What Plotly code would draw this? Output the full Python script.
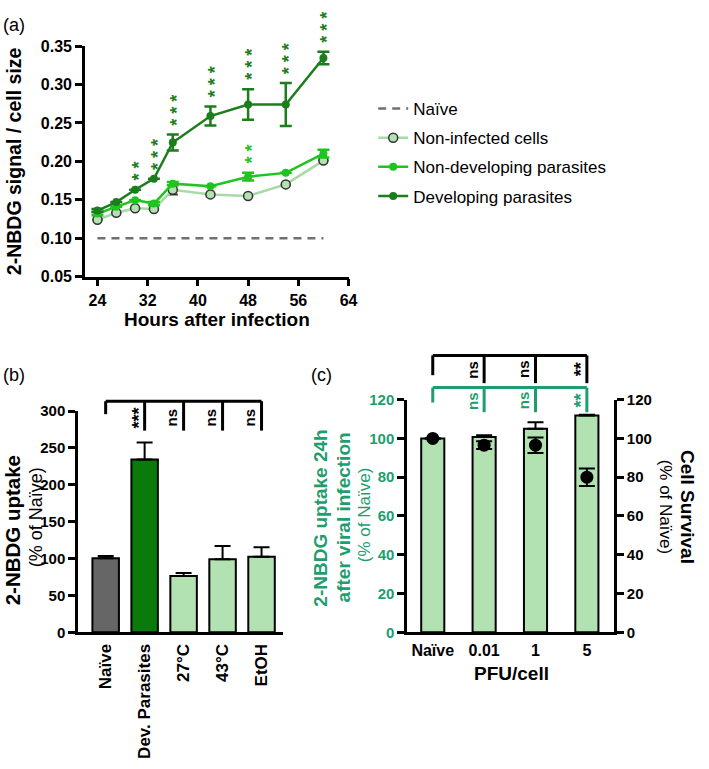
import plotly.graph_objects as go

W, H = 709, 769

# ---------------- data ----------------
hours = [24, 27, 30, 33, 36, 42, 48, 54, 60]
naive_a = [0.10, 0.10, 0.10, 0.10, 0.10, 0.10, 0.10, 0.10, 0.10]
noninf = [0.124, 0.133, 0.139, 0.138, 0.163, 0.157, 0.155, 0.170, 0.201]
noninf_err = [0, 0, 0, 0, 0.006, 0, 0, 0, 0]
nondev = [0.132, 0.141, 0.1495, 0.145, 0.171, 0.1675, 0.180, 0.185, 0.210]
nondev_err = [0.002, 0, 0, 0.002, 0.002, 0, 0.005, 0, 0.005]
dev = [0.136, 0.147, 0.163, 0.1775, 0.2245, 0.259, 0.274, 0.274, 0.3345]
dev_err = [0.002, 0, 0, 0, 0.0105, 0.0125, 0.02, 0.028, 0.008]
dev_stars = [0, 0, 2, 3, 3, 3, 3, 3, 3]
nondev_stars = [0, 0, 0, 0, 0, 0, 2, 0, 0]
a_yticks = [0.05, 0.10, 0.15, 0.20, 0.25, 0.30, 0.35]
a_xticks = [24, 32, 40, 48, 56, 64]

b_cats = ["Naïve", "Dev. Parasites", "27°C", "43°C", "EtOH"]
b_vals = [100.5, 234.5, 76.5, 99, 102.5]
b_err = [3, 23, 4, 18, 13]
b_sig = ["", "***", "ns", "ns", "ns"]
b_yticks = [0, 50, 100, 150, 200, 250, 300]

c_cats = ["Naïve", "0.01", "1", "5"]
c_uptake = [100, 100.7, 105, 111.8]
c_uptake_err = [0, 1, 3.4, 0.4]
c_surv = [100, 96.5, 96.5, 80]
c_surv_err = [0, 2, 4, 4.5]
c_sig_uptake = ["", "ns", "ns", "**"]
c_sig_surv = ["", "ns", "ns", "**"]
c_yticks = [0, 20, 40, 60, 80, 100, 120]

# ---------------- styles ----------------
FONT = "Liberation Sans, Arial, sans-serif"
DARK = "#1b7d1b"
BRIGHT = "#1fc41f"
LIGHTLINE = "#a6daa6"
LIGHTFILL = "#b2e1b2"
TEAL = "#1e9e6e"
GREY = "#666666"


def px(xp):
    return xp / W


def py(yp):
    return 1 - yp / H


A_X = [px(86), px(353)]
A_Y = [py(274), py(38)]
A_XR = [22, 64]
A_YR = [0.05, 0.35]
B_X = [px(79), px(287)]
B_Y = [py(638.3), py(411.7)]
B_XR = [-0.71, 4.56]
B_YR = [0, 300]
C_X = [px(412.3), px(622)]
C_Y = [py(638.3), py(400)]
C_XR = [-0.5, 3.53]
C_YR = [0, 120]


def dpx(v, dom, rng):
    return dom[0] + (v - rng[0]) / (rng[1] - rng[0]) * (dom[1] - dom[0])


fig = go.Figure()

# ---------------- panel (a) ----------------
fig.add_trace(go.Scatter(
    x=[hours[0], hours[-1]], y=[naive_a[0], naive_a[-1]], name="Naïve", mode="lines",
    line=dict(color="#707070", width=2.5, dash="8px,6px"), legendgroup="g1",
    xaxis="x", yaxis="y"))
fig.add_trace(go.Scatter(
    x=hours, y=noninf, name="Non-infected cells", mode="lines+markers", legendgroup="g2",
    line=dict(color=LIGHTLINE, width=2.5),
    marker=dict(size=9, color=LIGHTFILL, line=dict(color="#333333", width=1.5)),
    error_y=dict(type="data", array=noninf_err, color="#333333", thickness=2, width=5),
    xaxis="x", yaxis="y"))
fig.add_trace(go.Scatter(
    x=hours, y=nondev, name="Non-developing parasites", mode="lines+markers", legendgroup="g3",
    line=dict(color=BRIGHT, width=2.5), marker=dict(size=8, color=BRIGHT),
    error_y=dict(type="data", array=nondev_err, color=BRIGHT, thickness=2.5, width=6),
    xaxis="x", yaxis="y"))
fig.add_trace(go.Scatter(
    x=hours, y=dev, name="Developing parasites", mode="lines+markers", legendgroup="g4",
    line=dict(color=DARK, width=2.5), marker=dict(size=8, color=DARK),
    error_y=dict(type="data", array=dev_err, color=DARK, thickness=2.5, width=6),
    xaxis="x", yaxis="y"))

annotations = []
shapes = []


def stars_a(xs, ys, errs, counts, color):
    for x, y, e, n in zip(xs, ys, errs, counts):
        if n == 0:
            continue
        annotations.append(dict(
            x=x, y=y + e, xref="x", yref="y", text="<b>%s</b>" % " ".join(["*"] * n),
            showarrow=False, textangle=-90, xanchor="center", yanchor="bottom",
            yshift=7, xshift=4, font=dict(family=FONT, size=18, color=color)))


stars_a(hours, dev, dev_err, dev_stars, DARK)
stars_a(hours, nondev, nondev_err, nondev_stars, BRIGHT)

# ---------------- panel (b) ----------------
b_colors = [GREY, "#0a7a0a", LIGHTFILL, LIGHTFILL, LIGHTFILL]
b_x = list(range(len(b_cats)))
fig.add_trace(go.Bar(
    x=b_x, y=b_vals, width=0.68, marker=dict(color=b_colors, line=dict(color="black", width=2)),
    error_y=dict(type="data", symmetric=False, array=b_err, arrayminus=[0] * len(b_err),
                 color="black", thickness=2, width=8),
    showlegend=False, xaxis="x2", yaxis="y2"))

# ---------------- panel (c) ----------------
c_x = list(range(len(c_cats)))
fig.add_trace(go.Bar(
    x=c_x, y=c_uptake, width=0.45, marker=dict(color=LIGHTFILL, line=dict(color="black", width=2)),
    error_y=dict(type="data", symmetric=False, array=c_uptake_err, arrayminus=[0] * len(c_x),
                 color="black", thickness=2, width=8),
    showlegend=False, xaxis="x3", yaxis="y3"))
fig.add_trace(go.Scatter(
    x=c_x, y=c_surv, mode="markers", marker=dict(size=13, color="black"),
    error_y=dict(type="data", array=c_surv_err, color="black", thickness=2, width=8),
    showlegend=False, xaxis="x3", yaxis="y4"))


def bracket(xs, dom_x, rng_x, dom_y, rng_y, level, drop0, drop, labels, color, lab_y):
    yl = dpx(level, dom_y, rng_y)
    x0 = dpx(xs[0], dom_x, rng_x)
    x1 = dpx(xs[-1], dom_x, rng_x)
    shapes.append(dict(type="line", xref="paper", yref="paper", x0=x0, x1=x1, y0=yl, y1=yl,
                       line=dict(color=color, width=3)))
    for i, x in enumerate(xs):
        xp = dpx(x, dom_x, rng_x)
        yd = dpx(drop0 if i == 0 else drop, dom_y, rng_y)
        shapes.append(dict(type="line", xref="paper", yref="paper", x0=xp, x1=xp, y0=yl, y1=yd,
                           line=dict(color=color, width=3)))
        lab = labels[i]
        if lab:
            if "*" in lab:
                sz, off, t = 18, 6, "<b>%s</b>" % lab
            else:
                sz, off, t = 15, 12, "<b>%s</b>" % lab
            annotations.append(dict(
                x=xp - off / W, y=dpx(lab_y, dom_y, rng_y), xref="paper", yref="paper",
                text=t, textangle=-90, showarrow=False, xanchor="center", yanchor="middle",
                font=dict(family=FONT, size=sz, color=color)))


bracket(b_x, B_X, B_XR, B_Y, B_YR, 313.3, 295.8, 273.5, b_sig, "black", 291)
bracket(c_x, C_X, C_XR, C_Y, C_YR, 142.8, 132.6, 128.5, c_sig_surv, "black", 135.6)
bracket(c_x, C_X, C_XR, C_Y, C_YR, 126.2, 118.5, 113.5, c_sig_uptake, TEAL, 119.5)

# ---------------- text labels ----------------


def txt(x, y, text, size, color="black", bold=False, angle=0, xanchor="center"):
    annotations.append(dict(
        x=px(x), y=py(y), xref="paper", yref="paper", text=("<b>%s</b>" % text) if bold else text,
        showarrow=False, textangle=angle, xanchor=xanchor, yanchor="middle",
        font=dict(family=FONT, size=size, color=color)))


txt(1, 16, "(a)", 18, xanchor="left")
txt(1, 375, "(b)", 18, xanchor="left")
txt(313, 375, "(c)", 18, xanchor="left")
txt(15, 156, "2-NBDG signal / cell size", 19.5, bold=True, angle=-90)
txt(220, 318, "Hours after infection", 19, bold=True)
txt(13, 534, "2-NBDG uptake", 20.5, bold=True, angle=-90)
txt(36, 521, "(% of Naïve)", 18, angle=-90)
txt(325, 521, "2-NBDG uptake 24h", 19, TEAL, bold=True, angle=-90)
txt(348, 521, "after viral infection", 19, TEAL, bold=True, angle=-90)
txt(370, 518, "(% of Naïve)", 17, TEAL, angle=-90)
txt(675, 510, "(% of Naïve)", 17, angle=90)
txt(697, 510, "Cell Survival", 19, bold=True, angle=90)
txt(518, 680, "PFU/cell", 19, bold=True)

axis_common = dict(showline=True, linewidth=2.5, linecolor="black", showgrid=False, zeroline=False,
                   ticks="outside", ticklen=7, tickwidth=2.5, tickcolor="black")
tf = dict(family=FONT, size=16, color="black", weight="bold")
tf15 = dict(family=FONT, size=15, color="black", weight="bold")

fig.update_layout(
    width=W, height=H, margin=dict(l=0, r=0, t=0, b=0),
    paper_bgcolor="white", plot_bgcolor="white",
    font=dict(family=FONT, color="black"),
    showlegend=True,
    legend=dict(x=px(378), y=py(84), xanchor="left", yanchor="top",
                font=dict(family=FONT, size=17, color="black"), bgcolor="rgba(0,0,0,0)",
                itemwidth=30, tracegroupgap=4),
    xaxis=dict(domain=A_X, range=A_XR, tickvals=a_xticks, tickfont=tf, anchor="y", **axis_common),
    yaxis=dict(domain=A_Y, range=A_YR, tickvals=a_yticks, tickformat=".2f", tickfont=tf, anchor="x",
               **axis_common),
    xaxis2=dict(domain=B_X, range=B_XR, tickvals=b_x, ticktext=b_cats, tickangle=-90,
                tickfont=dict(family=FONT, size=17, color="black", weight="bold"), anchor="y2",
                showline=True, linewidth=2.5, linecolor="black", showgrid=False, zeroline=False,
                ticks="", ticklabelstandoff=2),
    yaxis2=dict(domain=B_Y, range=B_YR, tickvals=b_yticks, tickfont=tf15, anchor="x2", **axis_common),
    xaxis3=dict(domain=C_X, range=C_XR, tickvals=c_x, ticktext=c_cats, tickfont=tf, anchor="y3",
                showline=True, linewidth=2.5, linecolor="black", showgrid=False, zeroline=False,
                ticks="", ticklabelstandoff=2),
    yaxis3=dict(domain=C_Y, range=C_YR, tickvals=c_yticks, anchor="x3",
                tickfont=dict(family=FONT, size=15, color=TEAL, weight="bold"), **axis_common),
    yaxis4=dict(domain=C_Y, range=C_YR, tickvals=c_yticks, anchor="x3", overlaying="y3", side="right",
                tickfont=tf15, **axis_common),
    annotations=annotations, shapes=shapes,
)

fig.write_html("out.html", config={"displayModeBar": False},
               post_script="document.body.style.margin='0';")
